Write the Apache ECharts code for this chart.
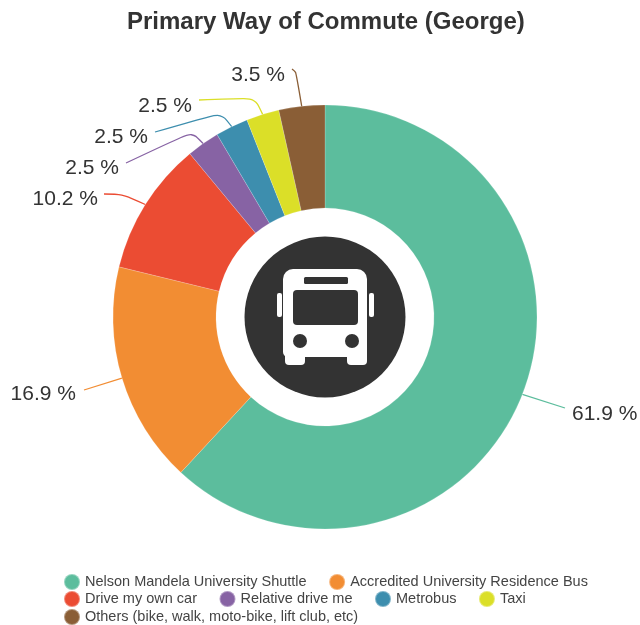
<!DOCTYPE html>
<html>
<head>
<meta charset="utf-8">
<style>html,body{margin:0;padding:0;background:#fff}#chart{width:640px;height:625px}</style>
<script src="https://cdn.jsdelivr.net/npm/echarts@6/dist/echarts.min.js"></script>
</head>
<body>
<div id="chart"></div>
<script>
// Commute modes and their shares, in percent
const categories = [
  'Nelson Mandela University Shuttle',
  'Accredited University Residence Bus',
  'Drive my own car',
  'Relative drive me',
  'Metrobus',
  'Taxi',
  'Others (bike, walk, moto-bike, lift club, etc)'
];
const shares = [61.9, 16.9, 10.2, 2.5, 2.5, 2.5, 3.5];
const palette = ['#5cbd9d', '#f28d33', '#eb4c33', '#8763a4', '#3d8eae', '#dbdf28', '#8a5e36'];

// Legend rows, as ranges of category indices
const legendRows = [[0, 2], [2, 6], [6, 7]];

// Leader routing for each callout: elbow, end of line, text anchor
const callouts = [
  { end: [565, 408], text: [572, 414], align: 'left' },
  { end: [84, 390], text: [76, 394], align: 'right' },
  { elbow: [122, 194], end: [104, 194], text: [98, 199], align: 'right' },
  { elbow: [192, 132], end: [126, 163], text: [119, 168], align: 'right' },
  { elbow: [221, 113], end: [155, 132], text: [148, 137], align: 'right' },
  { elbow: [255, 98], end: [199, 100], text: [192, 106], align: 'right' },
  { elbow: [296, 72], end: [292, 69], text: [285, 75], align: 'right' }
];

const cx = 325, cy = 317;

const chart = echarts.init(document.getElementById('chart'), null, { renderer: 'canvas' });

// Front view of a bus, white on the dark disc, drawn around the chart centre
const white = { fill: '#ffffff' };
const dark = { fill: '#333333' };
const busGlyph = [
  { type: 'circle', shape: { cx: cx, cy: cy, r: 80.5 }, style: dark },
  { type: 'rect', shape: { x: cx - 42, y: cy - 48, width: 84, height: 88, r: [10, 10, 5, 5] }, style: white },
  { type: 'rect', shape: { x: cx - 40, y: cy + 30, width: 20, height: 18, r: 4 }, style: white },
  { type: 'rect', shape: { x: cx + 22, y: cy + 30, width: 20, height: 18, r: 4 }, style: white },
  { type: 'rect', shape: { x: cx - 48, y: cy - 24, width: 5, height: 24, r: 2 }, style: white },
  { type: 'rect', shape: { x: cx + 44, y: cy - 24, width: 5, height: 24, r: 2 }, style: white },
  { type: 'rect', shape: { x: cx - 21, y: cy - 40, width: 44, height: 7, r: 1.5 }, style: dark },
  { type: 'rect', shape: { x: cx - 32, y: cy - 27, width: 65, height: 35, r: 4 }, style: dark },
  { type: 'circle', shape: { cx: cx - 25, cy: cy + 24, r: 7 }, style: dark },
  { type: 'circle', shape: { cx: cx + 27, cy: cy + 24, r: 7 }, style: dark }
];

const legendTops = [573, 590, 608];

chart.setOption({
  animation: false,
  color: palette,
  title: {
    text: 'Primary Way of Commute (George)',
    left: 127, top: 10, padding: 0,
    textStyle: { fontFamily: 'Liberation Sans', fontSize: 24, fontWeight: 'bold', color: '#333333' }
  },
  legend: legendRows.map((row, i) => ({
    data: categories.slice(row[0], row[1]),
    left: 63, top: legendTops[i],
    orient: 'horizontal', padding: 0,
    icon: 'circle', itemWidth: 16, itemHeight: 16, itemGap: 21.5,
    selectedMode: false,
    textStyle: { fontFamily: 'Liberation Sans', fontSize: 14.5, color: '#444444' }
  })),
  graphic: busGlyph,
  series: [{
    type: 'pie',
    center: [cx, cy],
    radius: [109, 212],
    startAngle: 90,
    clockwise: true,
    data: categories.map((name, i) => ({ name: name, value: shares[i] })),
    itemStyle: { borderColor: 'rgba(255,255,255,0.35)', borderWidth: 0.5 },
    label: {
      show: true,
      overflow: 'none',
      formatter: p => p.value.toFixed(1) + ' %',
      fontFamily: 'Liberation Sans', fontSize: 21, color: '#333333'
    },
    labelLine: { show: true, smooth: 0.3, length: 20, length2: 20, lineStyle: { width: 1.3 } },
    labelLayout: function (p) {
      const c = callouts[p.dataIndex];
      const start = p.labelLinePoints[0];
      const pts = c.elbow ? [start, c.elbow, c.end] : [start, c.end, c.end];
      return {
        x: c.text[0], y: c.text[1],
        align: c.align, verticalAlign: 'middle',
        labelLinePoints: pts
      };
    },
    emphasis: { disabled: true }
  }]
});
</script>
</body>
</html>
